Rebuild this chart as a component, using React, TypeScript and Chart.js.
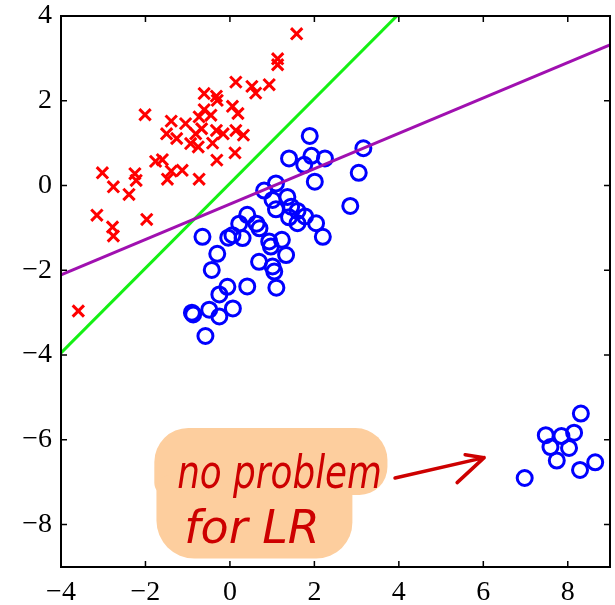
import { useEffect, useRef } from 'react';
import { Chart, registerables } from 'chart.js';

Chart.register(...registerables);

const xTicks = [-4, -2, 0, 2, 4, 6, 8];
const yTicks = [-8, -6, -4, -2, 0, 2, 4];

const redX = [1.58, 1.13, 1.13, 0.14, 0.52, 0.61, 0.93, -0.61, -0.32, -0.30, 0.06, 0.19, -2.01, -0.61, -0.73, -0.45, -1.39, -1.05, -0.67, -0.81, -1.50, -1.26, -0.32, -0.16, 0.14, 0.32, -0.93, -0.75, -0.41, 0.12, -0.31, -1.76, -1.60, -1.13, -1.39, -1.48, -3.02, -2.25, -2.22, -0.73, -2.76, -2.39, -3.15, -1.97, -2.78, -2.76, -3.59];
const redY = [3.58, 2.99, 2.85, 2.44, 2.34, 2.18, 2.38, 2.17, 2.11, 2.01, 1.87, 1.70, 1.67, 1.79, 1.62, 1.66, 1.52, 1.46, 1.34, 1.22, 1.22, 1.11, 1.30, 1.22, 1.30, 1.19, 0.99, 0.91, 1.00, 0.77, 0.60, 0.57, 0.61, 0.36, 0.34, 0.15, 0.30, 0.28, 0.12, 0.15, -0.03, -0.21, -0.70, -0.80, -0.98, -1.19, -2.96];

const blueX = [1.89, 1.40, 1.76, 1.93, 2.25, 3.16, 3.05, 2.01, 2.85, 1.09, 0.81, 1.01, 1.36, 1.09, 1.45, 1.60, 1.40, 1.60, 1.78, 2.04, 2.20, 0.41, 0.22, 0.63, 0.70, -0.65, -0.04, 0.06, 0.30, 0.93, 0.97, 1.23, 1.33, -0.30, 0.69, 1.01, 1.05, -0.43, -0.06, -0.25, 0.41, 1.10, -0.90, -0.87, -0.49, -0.25, 0.07, -0.58, 8.31, 7.48, 7.85, 8.15, 7.59, 8.03, 7.74, 8.65, 8.29, 6.98];
const blueY = [1.17, 0.64, 0.49, 0.70, 0.64, 0.88, 0.30, 0.09, -0.48, 0.05, -0.12, -0.34, -0.27, -0.56, -0.50, -0.60, -0.75, -0.89, -0.73, -0.89, -1.21, -0.69, -0.90, -0.90, -1.01, -1.21, -1.23, -1.17, -1.24, -1.32, -1.44, -1.28, -1.64, -1.61, -1.80, -1.91, -2.03, -1.99, -2.39, -2.57, -2.38, -2.41, -3.00, -3.04, -2.93, -3.09, -2.90, -3.55, -5.38, -5.89, -5.91, -5.83, -6.17, -6.19, -6.49, -6.53, -6.71, -6.90];

const greenX = [-4, 9];
const greenY = [-3.95, 9.05];
const purpleX = [-4, 9];
const purpleY = [-2.11, 3.32];

const noteLines = ['no problem', 'for LR'];

// annotation geometry in data units
const blobRects = [
  { x0: -1.79, x1: 3.73, y0: -5.72, y1: -7.3, r: [34, 32, 28, 12] },
  { x0: -1.74, x1: 2.9, y0: -6.85, y1: -8.8, r: [12, 20, 36, 38] },
];
const notePos = [
  { x: -1.25, y: -7.13, w: 4.85 },
  { x: -1.08, y: -8.43, w: 3.4 },
];
const arrowFrom = { x: 3.91, y: -6.9 };
const arrowTo = { x: 6.02, y: -6.42 };
const barbUpper = { x: 5.57, y: -6.35 };
const barbLower = { x: 5.38, y: -7.01 };

const toPts = (xs: number[], ys: number[]) => xs.map((x, i) => ({ x, y: ys[i] }));
const fmt = (v: number) => (v < 0 ? '\u2212' + Math.abs(v) : String(v));

const notePlugin = {
  id: 'note',
  afterDatasetsDraw(chart: any) {
    const { ctx, scales } = chart;
    const px = (v: number) => scales.x.getPixelForValue(v);
    const py = (v: number) => scales.y.getPixelForValue(v);
    ctx.save();
    ctx.fillStyle = 'rgb(253,206,158)';
    for (const r of blobRects) {
      const x = px(r.x0), y = py(r.y0);
      const w = px(r.x1) - x, h = py(r.y1) - y;
      ctx.beginPath();
      ctx.roundRect(x, y, w, h, r.r);
      ctx.fill();
    }
    ctx.fillStyle = 'rgb(205,0,0)';
    ctx.font = 'italic 46px "DejaVu Sans"';
    ctx.textBaseline = 'alphabetic';
    ctx.textAlign = 'left';
    noteLines.forEach((t, i) => {
      const p = notePos[i];
      const maxW = px(p.x + p.w) - px(p.x);
      ctx.fillText(t, px(p.x), py(p.y), maxW);
    });
    // arrow
    ctx.strokeStyle = 'rgb(205,0,0)';
    ctx.lineWidth = 3.5;
    ctx.lineCap = 'round';
    ctx.lineJoin = 'round';
    ctx.beginPath();
    ctx.moveTo(px(arrowFrom.x), py(arrowFrom.y));
    ctx.lineTo(px(arrowTo.x), py(arrowTo.y));
    ctx.moveTo(px(barbUpper.x), py(barbUpper.y));
    ctx.lineTo(px(arrowTo.x), py(arrowTo.y));
    ctx.lineTo(px(barbLower.x), py(barbLower.y));
    ctx.stroke();
    ctx.restore();
  },
};

const framePlugin = {
  id: 'frame',
  afterDraw(chart: any) {
    const { ctx, chartArea: a, scales } = chart;
    ctx.save();
    ctx.strokeStyle = '#000';
    ctx.lineWidth = 2;
    ctx.strokeRect(a.left, a.top, a.right - a.left, a.bottom - a.top);
    const L = 6;
    ctx.lineWidth = 1.5;
    ctx.beginPath();
    for (const v of xTicks) {
      const p = scales.x.getPixelForValue(v);
      ctx.moveTo(p, a.bottom);
      ctx.lineTo(p, a.bottom - L);
      ctx.moveTo(p, a.top);
      ctx.lineTo(p, a.top + L);
    }
    for (const v of yTicks) {
      const p = scales.y.getPixelForValue(v);
      ctx.moveTo(a.left, p);
      ctx.lineTo(a.left + L, p);
      ctx.moveTo(a.right, p);
      ctx.lineTo(a.right - L, p);
    }
    ctx.stroke();
    ctx.restore();
  },
};

const noPad = (s: any) => {
  s.paddingTop = 0;
  s.paddingBottom = 0;
  s.paddingLeft = 0;
  s.paddingRight = 0;
};

export default function App() {
  const ref = useRef<HTMLCanvasElement>(null);
  useEffect(() => {
    const tickFont = { family: '"Liberation Serif", "Times New Roman", serif', size: 28, lineHeight: 1 };
    const chart = new Chart(ref.current as HTMLCanvasElement, {
      type: 'scatter',
      data: {
        datasets: [
          {
            data: toPts(purpleX, purpleY),
            showLine: true,
            borderColor: '#a010b0',
            borderWidth: 3,
            pointRadius: 0,
          },
          {
            data: toPts(greenX, greenY),
            showLine: true,
            borderColor: '#14f014',
            borderWidth: 3,
            pointRadius: 0,
          },
          {
            data: toPts(redX, redY),
            pointStyle: 'crossRot',
            pointRadius: 8,
            borderColor: '#ff0000',
            borderWidth: 3,
            backgroundColor: '#ff0000',
          },
          {
            data: toPts(blueX, blueY),
            pointStyle: 'circle',
            pointRadius: 7.5,
            borderColor: '#0000ff',
            borderWidth: 3,
            backgroundColor: 'rgba(0,0,0,0)',
          },
        ],
      } as any,
      options: {
        animation: false,
        responsive: false,
        devicePixelRatio: 1,
        layout: { autoPadding: false, padding: { top: 16, right: 5, left: 0, bottom: 0 } },
        plugins: { legend: { display: false }, tooltip: { enabled: false } },
        scales: {
          x: {
            type: 'linear',
            min: -4,
            max: 9,
            grid: { display: false, drawTicks: false },
            border: { display: false },
            ticks: { font: tickFont, color: '#000', padding: 12, maxRotation: 0, autoSkip: false, callback: (v: any) => fmt(Number(v)) },
            afterBuildTicks: (s: any) => { s.ticks = xTicks.map((value) => ({ value })); },
            afterFit: (s: any) => { s.height = 38; noPad(s); },
          },
          y: {
            type: 'linear',
            min: -9,
            max: 4,
            grid: { display: false, drawTicks: false },
            border: { display: false },
            ticks: { font: tickFont, color: '#000', padding: 9, autoSkip: false, callback: (v: any) => fmt(Number(v)) },
            afterBuildTicks: (s: any) => { s.ticks = yTicks.map((value) => ({ value })); },
            afterFit: (s: any) => { s.width = 61; noPad(s); },
          },
        },
      } as any,
      plugins: [notePlugin, framePlugin],
    });
    return () => chart.destroy();
  }, []);
  return (
    <div style={{ position: 'fixed', left: 0, top: 0, width: 615, height: 605, background: '#fff' }}>
      <canvas ref={ref} width={615} height={605} style={{ width: 615, height: 605, display: 'block' }} />
    </div>
  );
}
